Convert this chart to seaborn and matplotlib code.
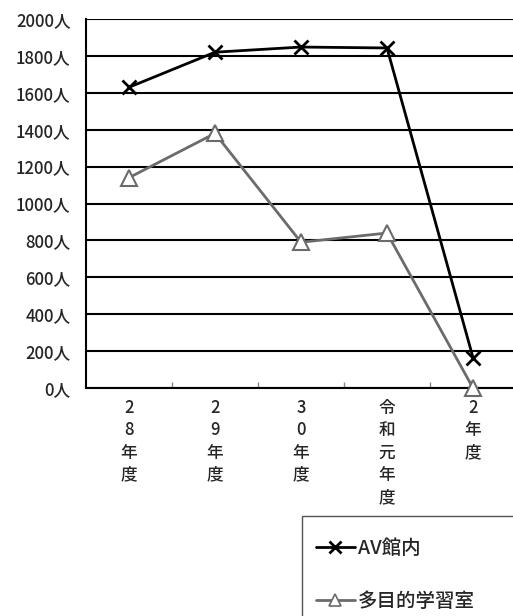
import matplotlib
matplotlib.use("Agg")
import matplotlib.pyplot as plt
from matplotlib.patches import Rectangle
from matplotlib.lines import Line2D
import seaborn as sns
import pandas as pd

years = ["2\n8\n年\n度", "2\n9\n年\n度", "3\n0\n年\n度", "令\n和\n元\n年\n度", "2\n年\n度"]
av_hall = [1630, 1820, 1848, 1843, 165]
multi_room = [1140, 1380, 790, 840, 0]
yticks = [0, 200, 400, 600, 800, 1000, 1200, 1400, 1600, 1800, 2000]
series_names = ["AV館内", "多目的学習室"]

sns.set_theme(style="white")
plt.rcParams["font.family"] = ["Noto Sans CJK JP", "DejaVu Sans"]
plt.rcParams["font.weight"] = "medium"

GRAY = "#6b6b6b"
W, H = 513, 616
fig = plt.figure(figsize=(W / 100, H / 100), dpi=100)
ax = fig.add_axes([86 / W, 1 - 388 / H, 430 / W, 369 / H])

df = pd.DataFrame({
    "pos": list(range(len(years))) * 2,
    "value": av_hall + multi_room,
    "series": [series_names[0]] * len(years) + [series_names[1]] * len(years),
})

sns.lineplot(data=df[df.series == series_names[0]], x="pos", y="value",
             color="black", lw=2, marker="x", markersize=10, mew=2,
             mec="black", ax=ax, legend=False, clip_on=False, zorder=4)
sns.lineplot(data=df[df.series == series_names[1]], x="pos", y="value",
             color=GRAY, lw=2, marker="^", markersize=11, mew=1.5,
             mfc="white", mec=GRAY, ax=ax, legend=False, clip_on=False,
             zorder=3)

ax.set_xlim(-0.5, 4.5)
ax.set_ylim(0, 2000)
ax.set_yticks(yticks)
ax.set_yticklabels([f"{v}人" for v in yticks], fontsize=12)
ax.yaxis.grid(True, color="black", lw=1.5)
ax.set_axisbelow(True)
ax.set_xticks(range(len(years)))
ax.set_xticklabels(years, fontsize=12, linespacing=1.3, va="top")
ax.set_xticks([0.5, 1.5, 2.5, 3.5], minor=True)
ax.tick_params(axis="x", which="major", length=0, pad=8)
ax.tick_params(axis="x", which="minor", length=4, direction="in",
               color="#888888", bottom=True)
ax.tick_params(axis="y", length=0, pad=11)
ax.set_xlabel("")
ax.set_ylabel("")
for side in ["left", "bottom"]:
    ax.spines[side].set_color("black")
    ax.spines[side].set_linewidth(1.5)
ax.spines["top"].set_visible(False)
ax.spines["right"].set_visible(False)

# legend box
fig.patches.append(Rectangle((302 / W, -0.05), 0.5, (1 - 516 / H) + 0.05,
                             transform=fig.transFigure, fill=True,
                             facecolor="white", edgecolor="#555555", lw=1))
handles = [
    Line2D([], [], color="black", lw=2, marker="x", markersize=9, mew=2),
    Line2D([], [], color=GRAY, lw=2, marker="^", markersize=9, mew=1.2,
           mfc="white", mec=GRAY),
]
fig.legend(handles, series_names, loc="upper left",
           bbox_to_anchor=(308 / W, 1 - 531 / H), frameon=False,
           fontsize=14, handlelength=2.0, handletextpad=0.15,
           labelspacing=1.75, borderaxespad=0)

fig.savefig("out.png", dpi=100)
